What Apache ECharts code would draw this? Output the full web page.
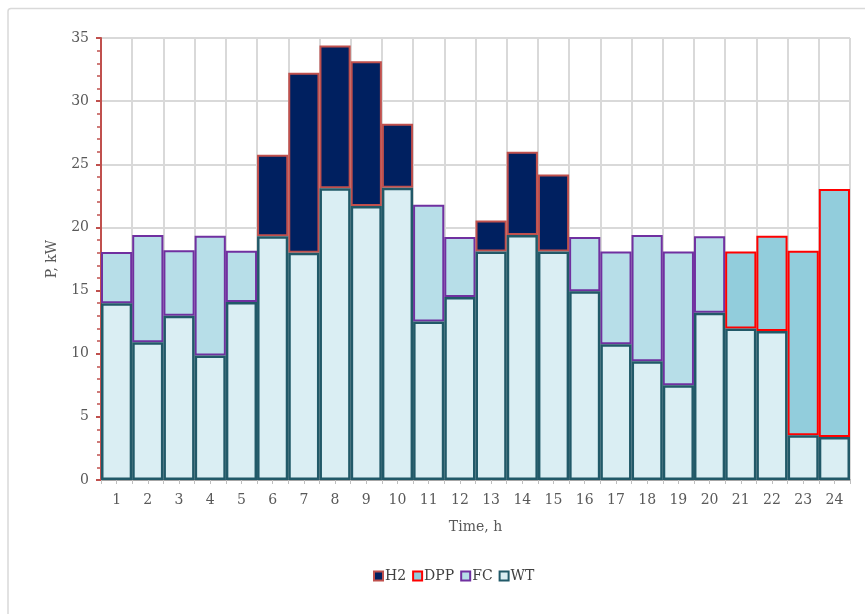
<!DOCTYPE html>
<html><head><meta charset="utf-8">
<script src="https://cdn.jsdelivr.net/npm/echarts@6/dist/echarts.min.js"></script>
<style>html,body{margin:0;padding:0;background:#fff}#c{width:865px;height:614px}</style>
</head><body><div id="c"></div>
<script>
const hours = ['1','2','3','4','5','6','7','8','9','10','11','12','13','14','15','16','17','18','19','20','21','22','23','24'];
const wt  = [14.0,10.9,13.0,9.85,14.1,19.3,18.0,23.1,21.7,23.15,12.55,14.5,18.1,19.4,18.1,14.95,10.75,9.4,7.5,13.25,12.0,11.8,3.55,3.4];
const fc  = [4.05,8.5,5.2,9.5,4.05,'-','-','-','-','-',9.25,4.75,'-','-','-',4.3,7.35,10.0,10.6,6.05,'-','-','-','-'];
const h2  = ['-','-','-','-','-',6.45,14.25,11.3,11.45,5.05,'-','-',2.45,6.6,6.1,'-','-','-','-','-','-','-','-','-'];
const dpp = ['-','-','-','-','-','-','-','-','-','-','-','-','-','-','-','-','-','-','-','-',6.1,7.55,14.6,19.65];
const yTicks = [0,5,10,15,20,25,30,35];

const font = 'DejaVu Serif';
const chart = echarts.init(document.getElementById('c'));
chart.setOption({
  animation:false,
  backgroundColor:'#fff',
  graphic:[{type:'rect',shape:{x:8,y:8.5,width:900,height:700,r:3},style:{fill:'none',stroke:'#D9D9D9',lineWidth:1.5}}],
  grid:{left:101,right:15,top:38,bottom:134},
  legend:{
    data:['H2','DPP','FC','WT'],bottom:26,left:368,
    itemWidth:9,itemHeight:9,itemGap:6,
    textStyle:{fontFamily:font,fontSize:14,color:'#404040',padding:[0,0,0,-3]},
    icon:'rect'
  },
  xAxis:[{
    type:'category',data:hours,
    name:'Time, h',nameLocation:'middle',nameGap:40,
    nameTextStyle:{fontFamily:font,fontSize:14,color:'#595959'},
    axisLine:{lineStyle:{color:'#A6A6A6',width:2}},
    axisTick:{show:true,length:4,lineStyle:{color:'#BFBFBF'}},
    axisLabel:{fontFamily:font,fontSize:14,color:'#595959',margin:13},
    splitLine:{show:true,lineStyle:{color:'#D9D9D9',width:2}}
  },{
    type:'category',data:hours,position:'bottom',
    axisLine:{show:false},axisLabel:{show:false},
    axisTick:{show:true,alignWithLabel:true,length:4,lineStyle:{color:'#BFBFBF'}},
    splitLine:{show:false}
  }],
  yAxis:{
    type:'value',min:0,max:35,interval:5,
    name:'P, kW',nameLocation:'middle',nameGap:42,
    nameTextStyle:{fontFamily:font,fontSize:14,color:'#595959'},
    axisLine:{show:true,lineStyle:{color:'#C0504D',width:2}},
    axisTick:{show:true,inside:false,length:5,lineStyle:{color:'#C0504D',width:2}},
    minorTick:{show:true,splitNumber:5,length:4,lineStyle:{color:'#C0504D',width:1.5}},
    axisLabel:{fontFamily:font,fontSize:14,color:'#595959',margin:12,
      formatter:v=>yTicks.includes(v)?String(v):''},
    splitLine:{show:true,lineStyle:{color:'#D9D9D9',width:2}}
  },
  series:[
    {name:'WT',type:'bar',stack:'p',data:wt,barCategoryGap:0,z:4,
      itemStyle:{color:'#DAEEF3',borderColor:'#215968',borderWidth:2.5}},
    {name:'FC',type:'bar',stack:'p',data:fc,z:3,
      itemStyle:{color:'#B7DEE8',borderColor:'#7030A0',borderWidth:2}},
    {name:'DPP',type:'bar',stack:'p',data:dpp,z:3,
      itemStyle:{color:'#92CDDC',borderColor:'#FF0000',borderWidth:2}},
    {name:'H2',type:'bar',stack:'p',data:h2,z:3,
      itemStyle:{color:'#002060',borderColor:'#C0504D',borderWidth:2}}
  ]
});
</script></body></html>
